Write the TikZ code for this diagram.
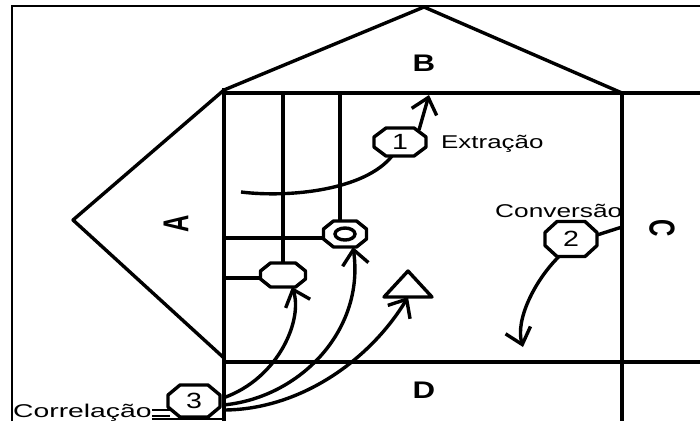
\documentclass[tikz,border=0pt]{standalone}
\usepackage{fontspec}
\setmainfont{Liberation Sans}
\usetikzlibrary{arrows.meta,calc}
\newcommand\octoshape[3]{%
  \draw[thk, line join=round] ([xshift=#2]#1.north west) -- ([xshift=-#2]#1.north east)
   -- ([yshift=-#3]#1.north east) -- ([yshift=#3]#1.south east)
   -- ([xshift=-#2]#1.south east) -- ([xshift=#2]#1.south west)
   -- ([yshift=#3]#1.south west) -- ([yshift=-#3]#1.north west) -- cycle;}
\begin{document}
\begin{tikzpicture}[x=1pt,y=-1pt,
  thk/.style={line width=3.4pt},
  oct/.style={inner sep=0pt, outer sep=0pt, font=\fontsize{22}{22}\selectfont},
  barb/.style={-{Straight Barb[length=15pt,width=26pt]}},
  lbl/.style={font=\fontsize{24}{24}\selectfont\bfseries, inner sep=0pt},
  txt/.style={font=\fontsize{18.5}{18.5}\selectfont, inner sep=0pt, anchor=base west}]
\useasboundingbox (0,0) rectangle (700,421);
% outer frame
\draw[line width=2.4pt] (12,421) -- (12,6) -- (700,6);
% main grid
\coordinate (mTL) at (224,93);
\coordinate (mTR) at (622,93);
\draw[thk] (224,421) -- (224,88);
\draw[thk] (224,93) -- (700,93);
\draw[thk] (224,362) -- (700,362);
\draw[thk] (622,93) -- (622,421);
% roof B and left wing A
\draw[thk, line join=round] (224,90) -- (424,7) -- (622,93);
\draw[thk, line join=round] (224,90) -- (73,220) -- (224,358);
% labels
\node[lbl] (B) at (424,63) {\scalebox{1.3}[1]{B}};
\node[lbl] (D) at (424,390) {\scalebox{1.3}[1]{D}};
\node[lbl] (A) at (176,224) {\scalebox{1.5}[1]{\rotatebox{90}{A}}};
\node[lbl] (C) at (662,228) {\scalebox{1.5}[1]{\rotatebox{-90}{C}}};
% octagons
\node[oct, minimum width=52pt, minimum height=28pt] (o1) at (400,142) {\scalebox{1.3}[1]{1}};
\node[oct, minimum width=52pt, minimum height=35pt] (o2) at (571,239) {\scalebox{1.3}[1]{2}};
\node[oct, minimum width=52pt, minimum height=32pt] (o3) at (194,401) {\scalebox{1.3}[1]{3}};
\node[oct, minimum width=43pt, minimum height=26pt] (oa) at (345,234) {};
\node[oct, minimum width=45pt, minimum height=24pt] (ob) at (283,275) {};
\octoshape{o1}{12pt}{9pt}
\octoshape{o2}{12pt}{11pt}
\octoshape{o3}{12pt}{10pt}
\octoshape{oa}{10pt}{8pt}
\octoshape{ob}{10pt}{8pt}
\draw[line width=3.4pt] (oa.center) ellipse [x radius=10, y radius=6];
% triangle
\node[minimum width=48pt, minimum height=26pt, inner sep=0pt, outer sep=0pt] (tri) at (408,284) {};
\draw[thk, line join=round] (tri.south west) -- (tri.north) -- (tri.south east) -- cycle;
% internal lines
\draw[thk] (ob.north) -- (ob.north |- mTL);
\draw[thk] ([xshift=-5pt]oa.north) -- ([xshift=-5pt]oa.north |- mTL);
\draw[thk] ([yshift=-4pt]oa.west) -- ([yshift=-4pt]oa.west -| mTL);
\draw[thk] ([yshift=-3pt]ob.west) -- ([yshift=-3pt]ob.west -| mTL);
% texts
\node[txt] (ext) at (441,148) {\scalebox{1.4}[1]{Extração}};
\node[txt] (conv) at (495,217) {\scalebox{1.42}[1]{Conversão}};
\node[txt] (corr) at (13,417) {\scalebox{1.53}[1]{Correlação}};
% extraction
\coordinate (e0) at (241,192);
\coordinate (b1) at (429,95);
\draw[thk] (e0) .. controls (290,198) and (365,190) .. ([xshift=-8pt]o1.south);
\draw[thk,barb] ([xshift=19pt,yshift=-2pt]o1.north) -- (b1);
% conversion
\coordinate (c1) at (523,347);
\coordinate (r2) at (622,227);
\draw[thk,barb] ([xshift=-12pt]o2.south) .. controls (535,280) and (515,320) .. (c1);
\draw[thk] ([yshift=4pt]o2.east) -- (r2);
% correlation
\draw[thk,barb] ([xshift=3pt,yshift=3pt]o3.east) .. controls (280,378) and (303,318) .. ([xshift=9pt]ob.south);
\draw[thk,barb] ([xshift=3pt,yshift=-4pt]o3.east) .. controls (300,398) and (365,330) .. ([xshift=8pt]oa.south);
\draw[thk,barb] ([xshift=3pt,yshift=-9pt]o3.east) .. controls (300,410) and (370,360) .. (tri.south);
\draw[line width=2.2pt] ([yshift=7pt]corr.base east) -- ++(18,0);
\draw[line width=2.2pt] ([yshift=1pt]corr.base east) -- ++(18,0);
\draw[line width=2.2pt] ([yshift=-2pt]corr.base east) -- ([yshift=-2pt]corr.base east -| mTL);
\end{tikzpicture}
\end{document}
